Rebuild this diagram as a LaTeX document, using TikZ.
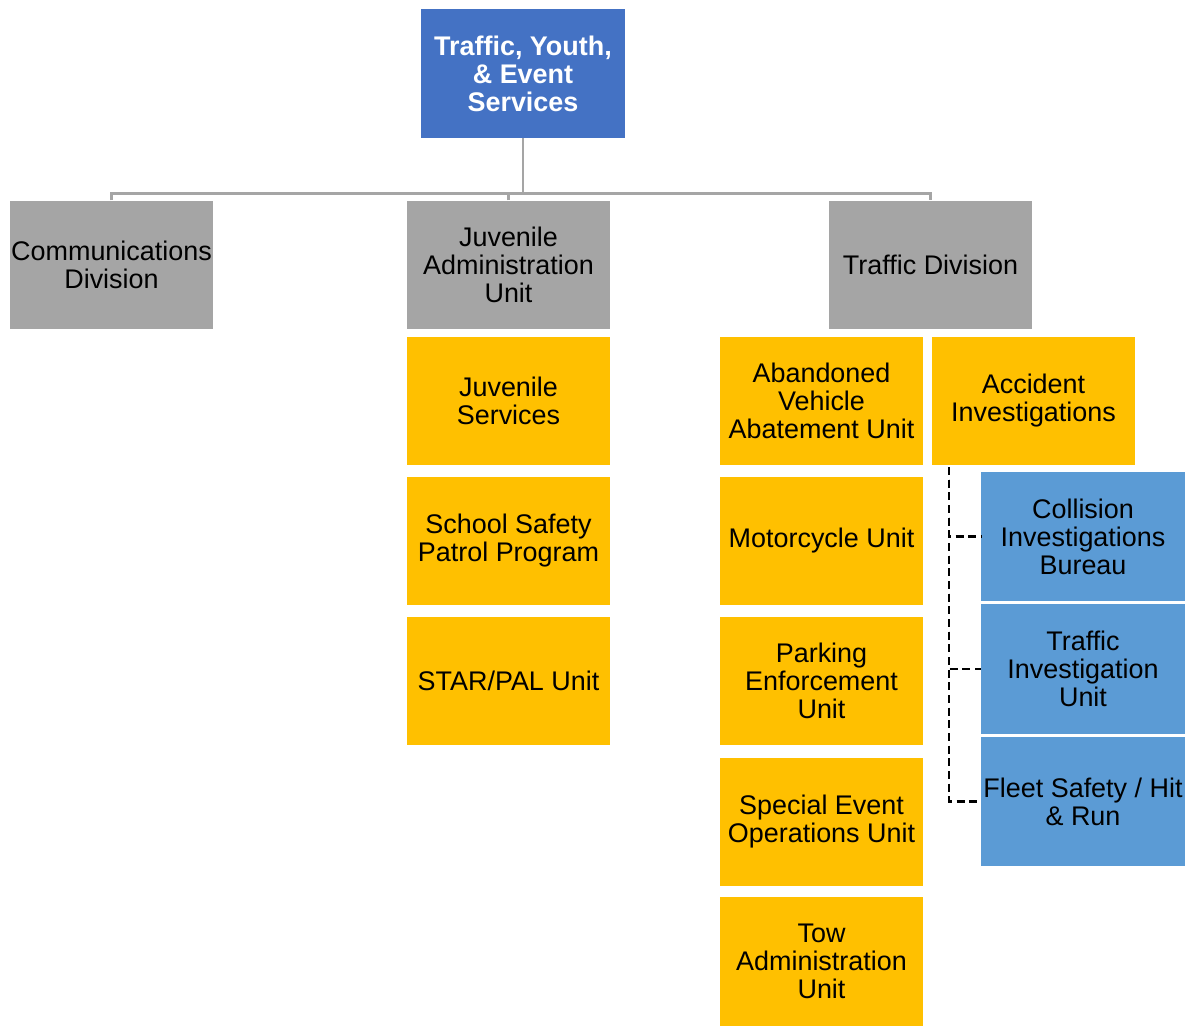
\documentclass[tikz,border=0pt]{standalone}
\usepackage{fontspec}
\setmainfont{Liberation Sans}
\usepackage{tikz}

\definecolor{topblue}{HTML}{4472C4}
\definecolor{unitblue}{HTML}{5B9BD5}
\definecolor{divgray}{HTML}{A5A5A5}
\definecolor{unitgold}{HTML}{FFC000}

\tikzset{
	box/.style={rectangle, minimum width=152.5pt, minimum height=96.5pt, inner sep=0pt, align=center, font=\fontsize{20.2}{21}\selectfont},
	headbox/.style={box, fill=topblue, text=white, font=\fontsize{20.2}{21}\selectfont\bfseries},
	divbox/.style={box, fill=divgray},
	unitbox/.style={box, fill=unitgold},
	subbox/.style={box, fill=unitblue, minimum height=97pt},
	conn/.style={draw=divgray, line width=1.8pt},
	dashconn/.style={draw=black, line width=2pt, dash pattern=on 6pt off 3.5pt}
}

\begin{document}
\begin{tikzpicture}[x=0.75pt, y=-0.75pt]
	\useasboundingbox (0,0) rectangle (1194,1026);

	%Head
	\node[headbox] (tyes) at (523,73.5) {Traffic, Youth,\\\& Event\\Services};

	%Divisions
	\node[divbox] (comm) at (111.5,265) {Communications\\Division};
	\node[divbox] (juvadm) at (508.5,265) {Juvenile\\Administration\\Unit};
	\node[divbox] (trdiv) at (930.5,265) {Traffic Division};

	%Juvenile units
	\node[unitbox] (juvsvc) at (508.5,401) {Juvenile\\Services};
	\node[unitbox] (ssp) at (508.5,541) {School Safety\\Patrol Program};
	\node[unitbox] (starpal) at (508.5,681) {STAR/PAL Unit};

	%Traffic units
	\node[unitbox] (avau) at (821.5,401) {Abandoned\\Vehicle\\Abatement Unit};
	\node[unitbox] (moto) at (821.5,541) {Motorcycle Unit};
	\node[unitbox] (park) at (821.5,681) {Parking\\Enforcement\\Unit};
	\node[unitbox] (seou) at (821.5,822) {Special Event\\Operations Unit};
	\node[unitbox] (tow) at (821.5,961.5) {Tow\\Administration\\Unit};
	\node[unitbox] (acc) at (1033.5,401) {Accident\\Investigations};

	%Accident sub units
	\node[subbox] (cib) at (1083,536.5) {Collision\\Investigations\\Bureau};
	\node[subbox] (tiu) at (1083,669) {Traffic\\Investigation\\Unit};
	\node[subbox] (fshr) at (1083,801.5) {Fleet Safety / Hit\\\& Run};

	%Connectors
	\coordinate (bus) at (523,193.5);
	\coordinate (stem) at (949,467);
	\draw[conn] (tyes.south) -- (bus);
	\draw[conn] (comm.north) |- (bus) -| (trdiv.north);
	\draw[conn] (juvadm.north) -- (juvadm.north |- bus);

	\draw[dashconn] (stem) |- (cib.west);
	\draw[dashconn] (stem) |- (tiu.west);
	\draw[dashconn] (stem) |- (fshr.west);
\end{tikzpicture}
\end{document}
